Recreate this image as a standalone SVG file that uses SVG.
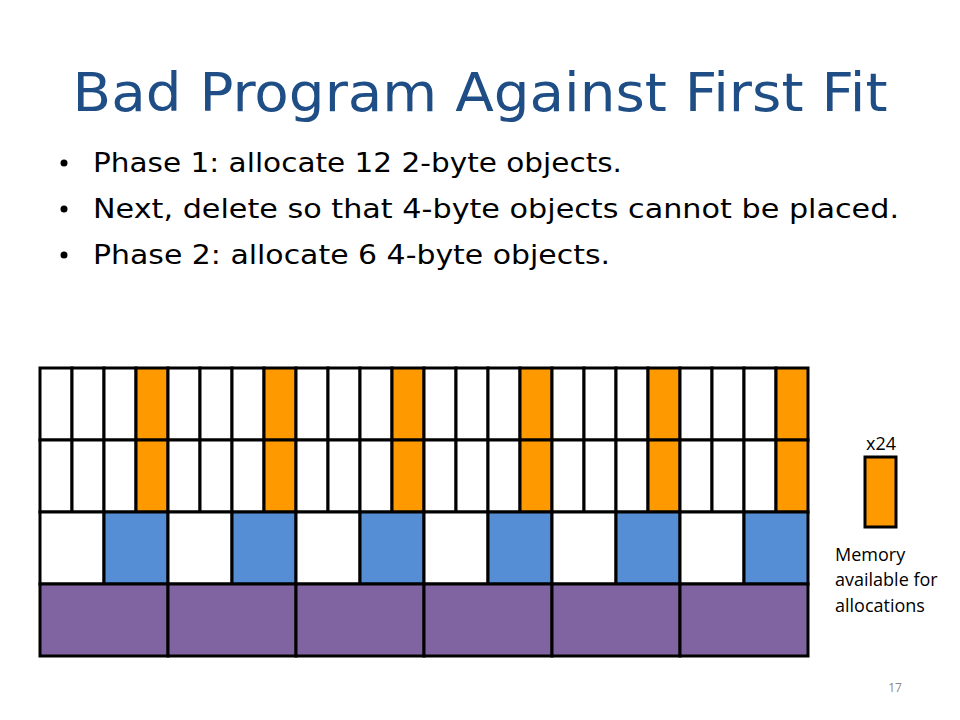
<svg xmlns="http://www.w3.org/2000/svg" width="960" height="720" viewBox="0 0 960 720">
<style>
.c{stroke:#000;stroke-width:3}
.w{fill:#fff}
.o{fill:#FF9900}
.b{fill:#558ED5}
.p{fill:#8064A2}
.t{font-family:"Comic Sans MS","DejaVu Sans",sans-serif}
.s{font-family:"Open Sans","Liberation Sans",sans-serif}
</style>
<rect width="960" height="720" fill="#fff"/>
<text class="t" x="480" y="111" font-size="54" fill="#1F4E86" text-anchor="middle" textLength="815" lengthAdjust="spacingAndGlyphs">Bad Program Against First Fit</text>
<g class="t" font-size="26" fill="#000">
<circle cx="64" cy="163" r="3.5"/>
<circle cx="64" cy="209" r="3.5"/>
<circle cx="64" cy="255" r="3.5"/>
<text x="93" y="172" textLength="529" lengthAdjust="spacingAndGlyphs">Phase 1: allocate 12 2-byte objects.</text>
<text x="93" y="218" textLength="806" lengthAdjust="spacingAndGlyphs">Next, delete so that 4-byte objects cannot be placed.</text>
<text x="93" y="264" textLength="517" lengthAdjust="spacingAndGlyphs">Phase 2: allocate 6 4-byte objects.</text>
</g>
<g id="row1" class="c">
<rect class="w" x="40" y="368" width="32" height="72"/><rect class="w" x="72" y="368" width="32" height="72"/><rect class="w" x="104" y="368" width="32" height="72"/><rect class="o" x="136" y="368" width="32" height="72"/>
<rect class="w" x="168" y="368" width="32" height="72"/><rect class="w" x="200" y="368" width="32" height="72"/><rect class="w" x="232" y="368" width="32" height="72"/><rect class="o" x="264" y="368" width="32" height="72"/>
<rect class="w" x="296" y="368" width="32" height="72"/><rect class="w" x="328" y="368" width="32" height="72"/><rect class="w" x="360" y="368" width="32" height="72"/><rect class="o" x="392" y="368" width="32" height="72"/>
<rect class="w" x="424" y="368" width="32" height="72"/><rect class="w" x="456" y="368" width="32" height="72"/><rect class="w" x="488" y="368" width="32" height="72"/><rect class="o" x="520" y="368" width="32" height="72"/>
<rect class="w" x="552" y="368" width="32" height="72"/><rect class="w" x="584" y="368" width="32" height="72"/><rect class="w" x="616" y="368" width="32" height="72"/><rect class="o" x="648" y="368" width="32" height="72"/>
<rect class="w" x="680" y="368" width="32" height="72"/><rect class="w" x="712" y="368" width="32" height="72"/><rect class="w" x="744" y="368" width="32" height="72"/><rect class="o" x="776" y="368" width="32" height="72"/>
</g>
<g id="row2" class="c">
<rect class="w" x="40" y="440" width="32" height="72"/><rect class="w" x="72" y="440" width="32" height="72"/><rect class="w" x="104" y="440" width="32" height="72"/><rect class="o" x="136" y="440" width="32" height="72"/>
<rect class="w" x="168" y="440" width="32" height="72"/><rect class="w" x="200" y="440" width="32" height="72"/><rect class="w" x="232" y="440" width="32" height="72"/><rect class="o" x="264" y="440" width="32" height="72"/>
<rect class="w" x="296" y="440" width="32" height="72"/><rect class="w" x="328" y="440" width="32" height="72"/><rect class="w" x="360" y="440" width="32" height="72"/><rect class="o" x="392" y="440" width="32" height="72"/>
<rect class="w" x="424" y="440" width="32" height="72"/><rect class="w" x="456" y="440" width="32" height="72"/><rect class="w" x="488" y="440" width="32" height="72"/><rect class="o" x="520" y="440" width="32" height="72"/>
<rect class="w" x="552" y="440" width="32" height="72"/><rect class="w" x="584" y="440" width="32" height="72"/><rect class="w" x="616" y="440" width="32" height="72"/><rect class="o" x="648" y="440" width="32" height="72"/>
<rect class="w" x="680" y="440" width="32" height="72"/><rect class="w" x="712" y="440" width="32" height="72"/><rect class="w" x="744" y="440" width="32" height="72"/><rect class="o" x="776" y="440" width="32" height="72"/>
</g>
<g id="row3" class="c">
<rect class="w" x="40" y="512" width="64" height="72"/><rect class="b" x="104" y="512" width="64" height="72"/>
<rect class="w" x="168" y="512" width="64" height="72"/><rect class="b" x="232" y="512" width="64" height="72"/>
<rect class="w" x="296" y="512" width="64" height="72"/><rect class="b" x="360" y="512" width="64" height="72"/>
<rect class="w" x="424" y="512" width="64" height="72"/><rect class="b" x="488" y="512" width="64" height="72"/>
<rect class="w" x="552" y="512" width="64" height="72"/><rect class="b" x="616" y="512" width="64" height="72"/>
<rect class="w" x="680" y="512" width="64" height="72"/><rect class="b" x="744" y="512" width="64" height="72"/>
</g>
<g id="row4" class="c">
<rect class="p" x="40" y="584" width="128" height="72"/><rect class="p" x="168" y="584" width="128" height="72"/>
<rect class="p" x="296" y="584" width="128" height="72"/><rect class="p" x="424" y="584" width="128" height="72"/>
<rect class="p" x="552" y="584" width="128" height="72"/><rect class="p" x="680" y="584" width="128" height="72"/>
</g>
<g id="legend">
<rect class="o c" x="865" y="457" width="31" height="70"/>
<text class="s" x="881" y="450" font-size="18" text-anchor="middle">x24</text>
<text class="s" x="835" y="561" font-size="18">Memory</text>
<text class="s" x="835" y="586" font-size="18">available for</text>
<text class="s" x="835" y="612" font-size="18">allocations</text>
</g>
<text class="s" x="895" y="692" font-size="12" fill="#888" text-anchor="middle">17</text>
</svg>
